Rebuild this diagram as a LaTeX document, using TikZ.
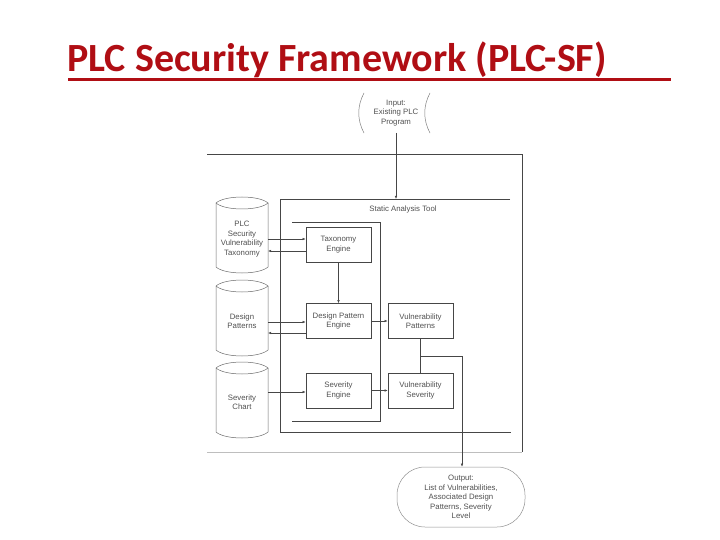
\documentclass[tikz,border=0pt]{standalone}
\usepackage{fontspec}
\setmainfont{Liberation Sans}
\newfontfamily\titlefont{Carlito}
\usetikzlibrary{arrows.meta}
\definecolor{titlered}{RGB}{176,14,20}
\definecolor{ln}{RGB}{70,70,70}
\definecolor{lgray}{RGB}{190,190,190}
\definecolor{txt}{RGB}{80,80,80}
\tikzset{
  box/.style={draw=ln, line width=0.6pt, minimum width=65pt, minimum height=35pt, inner sep=1pt, align=center, font=\fontsize{7.8}{9.4}\selectfont, text=txt},
  lbl/.style={align=center, font=\fontsize{7.8}{9.4}\selectfont, text=txt, inner sep=0pt},
  frame/.style={draw=ln, line width=0.6pt},
  cyl/.style={draw=ln!80, line width=0.5pt},
  conn/.style={draw=ln, line width=0.5pt},
  arr/.style={conn, -{Latex[length=3.2pt,width=2.6pt]}}
}
\begin{document}
\begin{tikzpicture}[x=1pt,y=-1pt]
\useasboundingbox (0,0) rectangle (720,540);
% title
\node[anchor=base west, inner sep=0pt, text=titlered, font=\titlefont\bfseries\fontsize{40}{44}\selectfont] (title) at (67,72) {PLC Security Framework (PLC-SF)};
\draw[titlered, line width=3pt] (68,79.5) -- (671,79.5);
% outer frame
\draw[frame] (207,154) -- (522,154) -- (522,452);
\draw[lgray, line width=0.8pt] (207,452) -- (522,452);
% static analysis frame
\draw[frame] (510,199) -- (280,199) -- (280,432) -- (511,432);
\node[lbl] (sat) at (403,209) {Static Analysis Tool};
% inner frame
\draw[frame] (292,222) -- (380,222) -- (380,421) -- (292,421);
% input shape
\draw[ln!70, line width=0.5pt] (364,93) .. controls (357,106) and (357,120) .. (364,133);
\draw[ln!70, line width=0.5pt] (430,93) .. controls (423,106) and (423,120) .. (430,133);
\node[lbl] (in) at (396,113) {Input:\\Existing PLC\\Program};
\coordinate (inb) at (396,133);
\coordinate (satt) at (396,199);
\draw[arr] (inb) -- (satt);
% cylinders
\foreach \yt/\yb in {197/273, 280/356, 362/438}{
  \draw[cyl] (216,\yt+6) .. controls (225,\yt-2) and (259,\yt-2) .. (268,\yt+6)
             .. controls (259,\yt+14) and (225,\yt+14) .. (216,\yt+6);
  \draw[cyl] (216,\yt+6) -- (216,\yb-6) .. controls (225,\yb+2) and (259,\yb+2) .. (268,\yb-6) -- (268,\yt+6);
}
\node[lbl] (c1) at (242,239) {PLC\\Security\\Vulnerability\\Taxonomy};
\node[lbl] (c2) at (242,321) {Design\\Patterns};
\node[lbl] (c3) at (242,402) {Severity\\Chart};
% boxes
\node[box] (te) at (338.5,244.5) {Taxonomy\\Engine};
\node[box] (dpe) at (338.5,321) {Design Pattern\\Engine};
\node[box] (vp) at (420.5,321) {Vulnerability\\Patterns};
\node[box] (se) at (338.5,390.5) {Severity\\Engine};
\node[box] (vs) at (420.5,390.5) {Vulnerability\\Severity};
% output
\node[draw=ln!60, line width=0.5pt, rounded corners=28pt, minimum width=128pt, minimum height=60pt, lbl, inner sep=0pt] (out) at (461,497) {Output:\\List of Vulnerabilities,\\Associated Design\\Patterns, Severity\\Level};
% connectors
\draw[arr] (268,239) -- (te.west |- 0,239);
\draw[arr] (te.west |- 0,251) -- (268,251);
\draw[arr] (te.south) -- (dpe.north);
\draw[arr] (268,322) -- (dpe.west |- 0,322);
\draw[arr] (dpe.west |- 0,333) -- (268,333);
\draw[arr] (dpe.east) -- (vp.west);
\draw[arr] (268,392) -- (se.west |- 0,392);
\draw[arr] (se.east) -- (vs.west);
\draw[conn] (vp.south) -- (vs.north);
\coordinate (br) at (420.5,356);
\coordinate (bk) at (462,356);
\draw[arr] (br) -- (bk) -- (out.north -| bk);
\end{tikzpicture}
\end{document}
